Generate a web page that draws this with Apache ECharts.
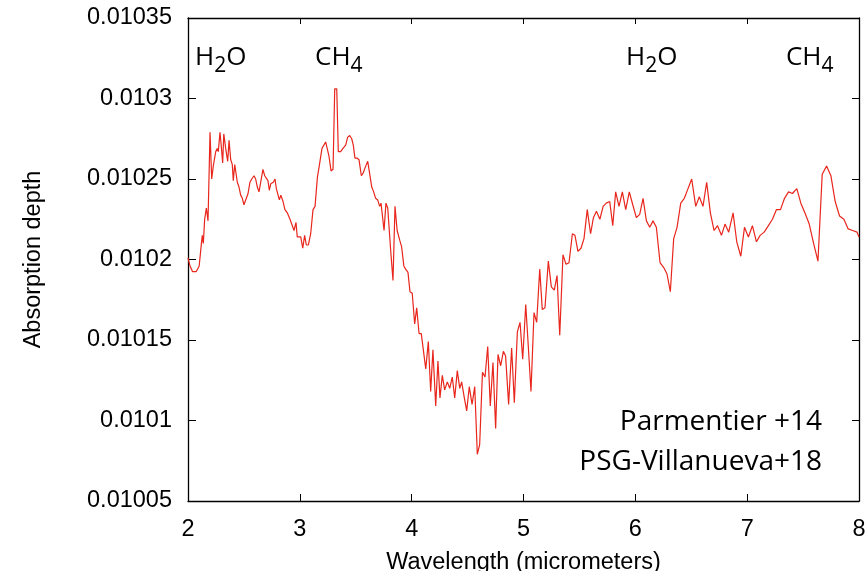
<!DOCTYPE html>
<html>
<head>
<meta charset="utf-8">
<script src="https://cdn.jsdelivr.net/npm/echarts@6/dist/echarts.min.js"></script>
<style>html,body{margin:0;padding:0;background:#fff;}#c{width:867px;height:571px;}</style>
</head>
<body>
<div id="c"></div>
<script>
const wavelength = [2.000,2.018,2.040,2.074,2.100,2.120,2.128,2.137,2.149,2.164,2.179,2.197,2.212,2.226,2.248,2.262,2.271,2.286,2.298,2.310,2.320,2.337,2.346,2.355,2.367,2.382,2.396,2.405,2.418,2.432,2.441,2.456,2.471,2.486,2.500,2.516,2.537,2.554,2.570,2.580,2.590,2.605,2.620,2.635,2.650,2.670,2.686,2.700,2.715,2.727,2.740,2.754,2.763,2.778,2.790,2.805,2.817,2.830,2.838,2.850,2.867,2.888,2.912,2.933,2.948,2.966,2.977,2.993,3.008,3.026,3.043,3.058,3.076,3.097,3.118,3.136,3.157,3.178,3.198,3.213,3.231,3.246,3.261,3.279,3.297,3.312,3.330,3.344,3.365,3.386,3.410,3.428,3.446,3.464,3.478,3.493,3.511,3.529,3.550,3.568,3.589,3.607,3.625,3.643,3.660,3.678,3.696,3.714,3.726,3.737,3.753,3.770,3.786,3.813,3.833,3.851,3.870,3.893,3.910,3.930,3.946,3.967,3.985,4.005,4.027,4.045,4.066,4.086,4.104,4.126,4.149,4.170,4.190,4.215,4.235,4.253,4.274,4.295,4.319,4.340,4.363,4.385,4.408,4.430,4.447,4.471,4.492,4.515,4.540,4.564,4.587,4.608,4.633,4.656,4.680,4.703,4.727,4.751,4.772,4.796,4.820,4.840,4.867,4.894,4.918,4.945,4.969,4.993,5.020,5.043,5.067,5.094,5.118,5.145,5.168,5.192,5.222,5.249,5.275,5.300,5.324,5.353,5.380,5.407,5.437,5.460,5.487,5.514,5.541,5.570,5.600,5.625,5.652,5.683,5.712,5.740,5.771,5.798,5.824,5.854,5.884,5.914,5.946,5.977,6.009,6.039,6.069,6.099,6.129,6.158,6.188,6.221,6.254,6.283,6.313,6.343,6.373,6.406,6.438,6.471,6.504,6.540,6.572,6.605,6.638,6.671,6.704,6.735,6.770,6.802,6.835,6.874,6.907,6.943,6.976,7.011,7.047,7.083,7.116,7.152,7.190,7.226,7.262,7.298,7.334,7.370,7.405,7.444,7.480,7.516,7.555,7.594,7.633,7.671,7.710,7.749,7.787,7.826,7.865,7.903,7.943,7.982,8.000];

const absorption = [0.010201,0.010196,0.0101925,0.0101925,0.010196,0.010210,0.010215,0.010210,0.010225,0.010232,0.010224,0.010279,0.010250,0.010258,0.010267,0.010269,0.010267,0.010279,0.010270,0.010260,0.010278,0.010269,0.010270,0.010261,0.010274,0.010262,0.010259,0.010249,0.010259,0.010259,0.010248,0.010245,0.010240,0.010238,0.010234,0.010237,0.010241,0.010248,0.010250,0.010250,0.010252,0.010250,0.010245,0.010242,0.010242,0.010256,0.010252,0.010251,0.010249,0.010243,0.010247,0.010247,0.010248,0.010250,0.010244,0.010245,0.010237,0.010240,0.010240,0.010236,0.010231,0.010229,0.010225,0.010221,0.010218,0.010223,0.010214,0.010215,0.010214,0.010207,0.010215,0.010209,0.010209,0.010216,0.010231,0.010233,0.010251,0.010260,0.010269,0.010270,0.010273,0.010272,0.010264,0.010255,0.010256,0.010306,0.010306,0.010267,0.010267,0.010269,0.010271,0.010276,0.010277,0.010275,0.010271,0.010263,0.010263,0.010262,0.010252,0.010254,0.010258,0.010261,0.010253,0.010245,0.010242,0.010238,0.010237,0.010233,0.010235,0.010235,0.010218,0.010235,0.010232,0.010205,0.010187,0.010233,0.010218,0.010212,0.010208,0.010196,0.010194,0.010192,0.010180,0.010179,0.010160,0.010170,0.010154,0.010154,0.010144,0.010132,0.010149,0.010118,0.010144,0.010109,0.010137,0.010114,0.010128,0.010119,0.010124,0.010120,0.010127,0.010114,0.010131,0.010120,0.010124,0.010114,0.010106,0.010121,0.010110,0.010121,0.010079,0.010085,0.010130,0.010127,0.010146,0.010109,0.010136,0.010095,0.010141,0.010134,0.010143,0.010140,0.010110,0.010145,0.010111,0.010155,0.010161,0.010138,0.010172,0.010146,0.010118,0.010167,0.010161,0.010194,0.010169,0.010170,0.010199,0.010183,0.010181,0.010190,0.010153,0.010203,0.010197,0.010198,0.010216,0.010215,0.010205,0.010207,0.010213,0.010231,0.010216,0.010226,0.010230,0.010225,0.010233,0.010235,0.010236,0.010221,0.010242,0.010233,0.010242,0.010231,0.010242,0.010234,0.010226,0.010228,0.010238,0.010224,0.010220,0.010224,0.010220,0.010198,0.010195,0.010191,0.010180,0.010213,0.010220,0.010235,0.010238,0.010244,0.010250,0.010233,0.010239,0.010233,0.010248,0.010229,0.010218,0.010221,0.010215,0.010222,0.010217,0.010229,0.010211,0.010202,0.010220,0.010214,0.010221,0.010211,0.010215,0.010217,0.010221,0.010225,0.010231,0.010231,0.010238,0.010242,0.010241,0.010244,0.010235,0.010229,0.010222,0.010210,0.010199,0.010253,0.010258,0.010252,0.010236,0.010227,0.010225,0.010219,0.010218,0.010217,0.010214];

const xTicks = [2, 3, 4, 5, 6, 7, 8];
const yTickLabels = ['0.01005', '0.0101', '0.01015', '0.0102', '0.01025', '0.0103', '0.01035'];
const moleculeLabels = [
  { wl: 2.063, parts: ['H', '2', 'O'] },
  { wl: 3.136, parts: ['CH', '4', ''] },
  { wl: 5.917, parts: ['H', '2', 'O'] },
  { wl: 7.347, parts: ['CH', '4', ''] }
];
const sourceLabels = ['Parmentier +14', 'PSG-Villanueva+18'];

const chart = echarts.init(document.getElementById('c'), null, { renderer: 'canvas' });
const axisFont = 'Liberation Sans';
const noteFont = 'Open Sans';
const axisFontSize = 23.5;

const yMin = 0.01005, yMax = 0.01035, yStep = 0.00005;

function yLabel(v) {
  const idx = Math.round((v - yMin) / yStep);
  return yTickLabels[idx] !== undefined ? yTickLabels[idx] : '';
}

const option = {
  animation: false,
  backgroundColor: '#ffffff',
  grid: { left: 188, right: 8, top: 18, bottom: 70, containLabel: false, outerBoundsMode: 'none' },
  xAxis: [
    {
      type: 'value', min: xTicks[0], max: xTicks[xTicks.length - 1], interval: 1,
      position: 'bottom',
      name: 'Wavelength (micrometers)', nameLocation: 'middle', nameGap: 50,
      nameTextStyle: { fontFamily: axisFont, fontSize: axisFontSize, color: '#000' },
      axisLine: { show: true, lineStyle: { color: '#000', width: 1.3 } },
      axisTick: { show: true, inside: true, length: 7, lineStyle: { color: '#000', width: 1 } },
      axisLabel: { show: true, margin: 17, fontFamily: axisFont, fontSize: axisFontSize, color: '#000' },
      splitLine: { show: false }
    },
    {
      type: 'value', min: xTicks[0], max: xTicks[xTicks.length - 1], interval: 1,
      position: 'top',
      axisLine: { show: true, lineStyle: { color: '#000', width: 1.3 } },
      axisTick: { show: true, inside: true, length: 6, lineStyle: { color: '#000', width: 1 } },
      axisLabel: { show: false },
      splitLine: { show: false }
    }
  ],
  yAxis: [
    {
      type: 'value', min: yMin, max: yMax, interval: yStep,
      position: 'left',
      name: 'Absorption depth', nameLocation: 'middle', nameGap: 142,
      nameTextStyle: { fontFamily: axisFont, fontSize: axisFontSize, color: '#000' },
      axisLine: { show: true, lineStyle: { color: '#000', width: 1.3 } },
      axisTick: { show: true, inside: true, length: 8, lineStyle: { color: '#000', width: 1 } },
      axisLabel: { show: true, margin: 16, fontFamily: axisFont, fontSize: axisFontSize, color: '#000', formatter: yLabel },
      splitLine: { show: false }
    },
    {
      type: 'value', min: yMin, max: yMax, interval: yStep,
      position: 'right',
      axisLine: { show: true, lineStyle: { color: '#000', width: 1.3 } },
      axisTick: { show: true, inside: true, length: 7, lineStyle: { color: '#000', width: 1 } },
      axisLabel: { show: false },
      splitLine: { show: false }
    }
  ],
  series: [
    {
      type: 'line',
      xAxisIndex: 0, yAxisIndex: 0,
      data: wavelength.map((w, i) => [w, absorption[i]]),
      showSymbol: false, symbol: 'none',
      lineStyle: { color: '#e8261c', width: 1.2 },
      itemStyle: { color: '#e8261c' },
      clip: true
    }
  ]
};

chart.setOption(option);

function buildGraphics() {
  const els = [];
  const richStyle = {
    m: { fontFamily: noteFont, fontSize: 26, lineHeight: 26, verticalAlign: 'top', color: '#000' },
    s: { fontFamily: noteFont, fontSize: 21, lineHeight: 43, color: '#000' }
  };
  moleculeLabels.forEach(lbl => {
    const px = chart.convertToPixel({ xAxisIndex: 0 }, lbl.wl);
    const txt = '{m|' + lbl.parts[0] + '}{s|' + lbl.parts[1] + '}' + (lbl.parts[2] ? '{m|' + lbl.parts[2] + '}' : '');
    els.push({
      type: 'text', x: px, y: 44.5, silent: true,
      style: { text: txt, rich: richStyle, align: 'left', verticalAlign: 'top' }
    });
  });
  const rightPx = chart.convertToPixel({ xAxisIndex: 0 }, 7.669);
  sourceLabels.forEach((t, i) => {
    els.push({
      type: 'text', x: rightPx, y: 422 + i * 40, silent: true,
      style: { text: t, fontFamily: noteFont, fontSize: 28, fill: '#000', align: 'right', verticalAlign: 'middle' }
    });
  });
  chart.setOption({ graphic: els });
}
buildGraphics();
</script>
</body>
</html>
